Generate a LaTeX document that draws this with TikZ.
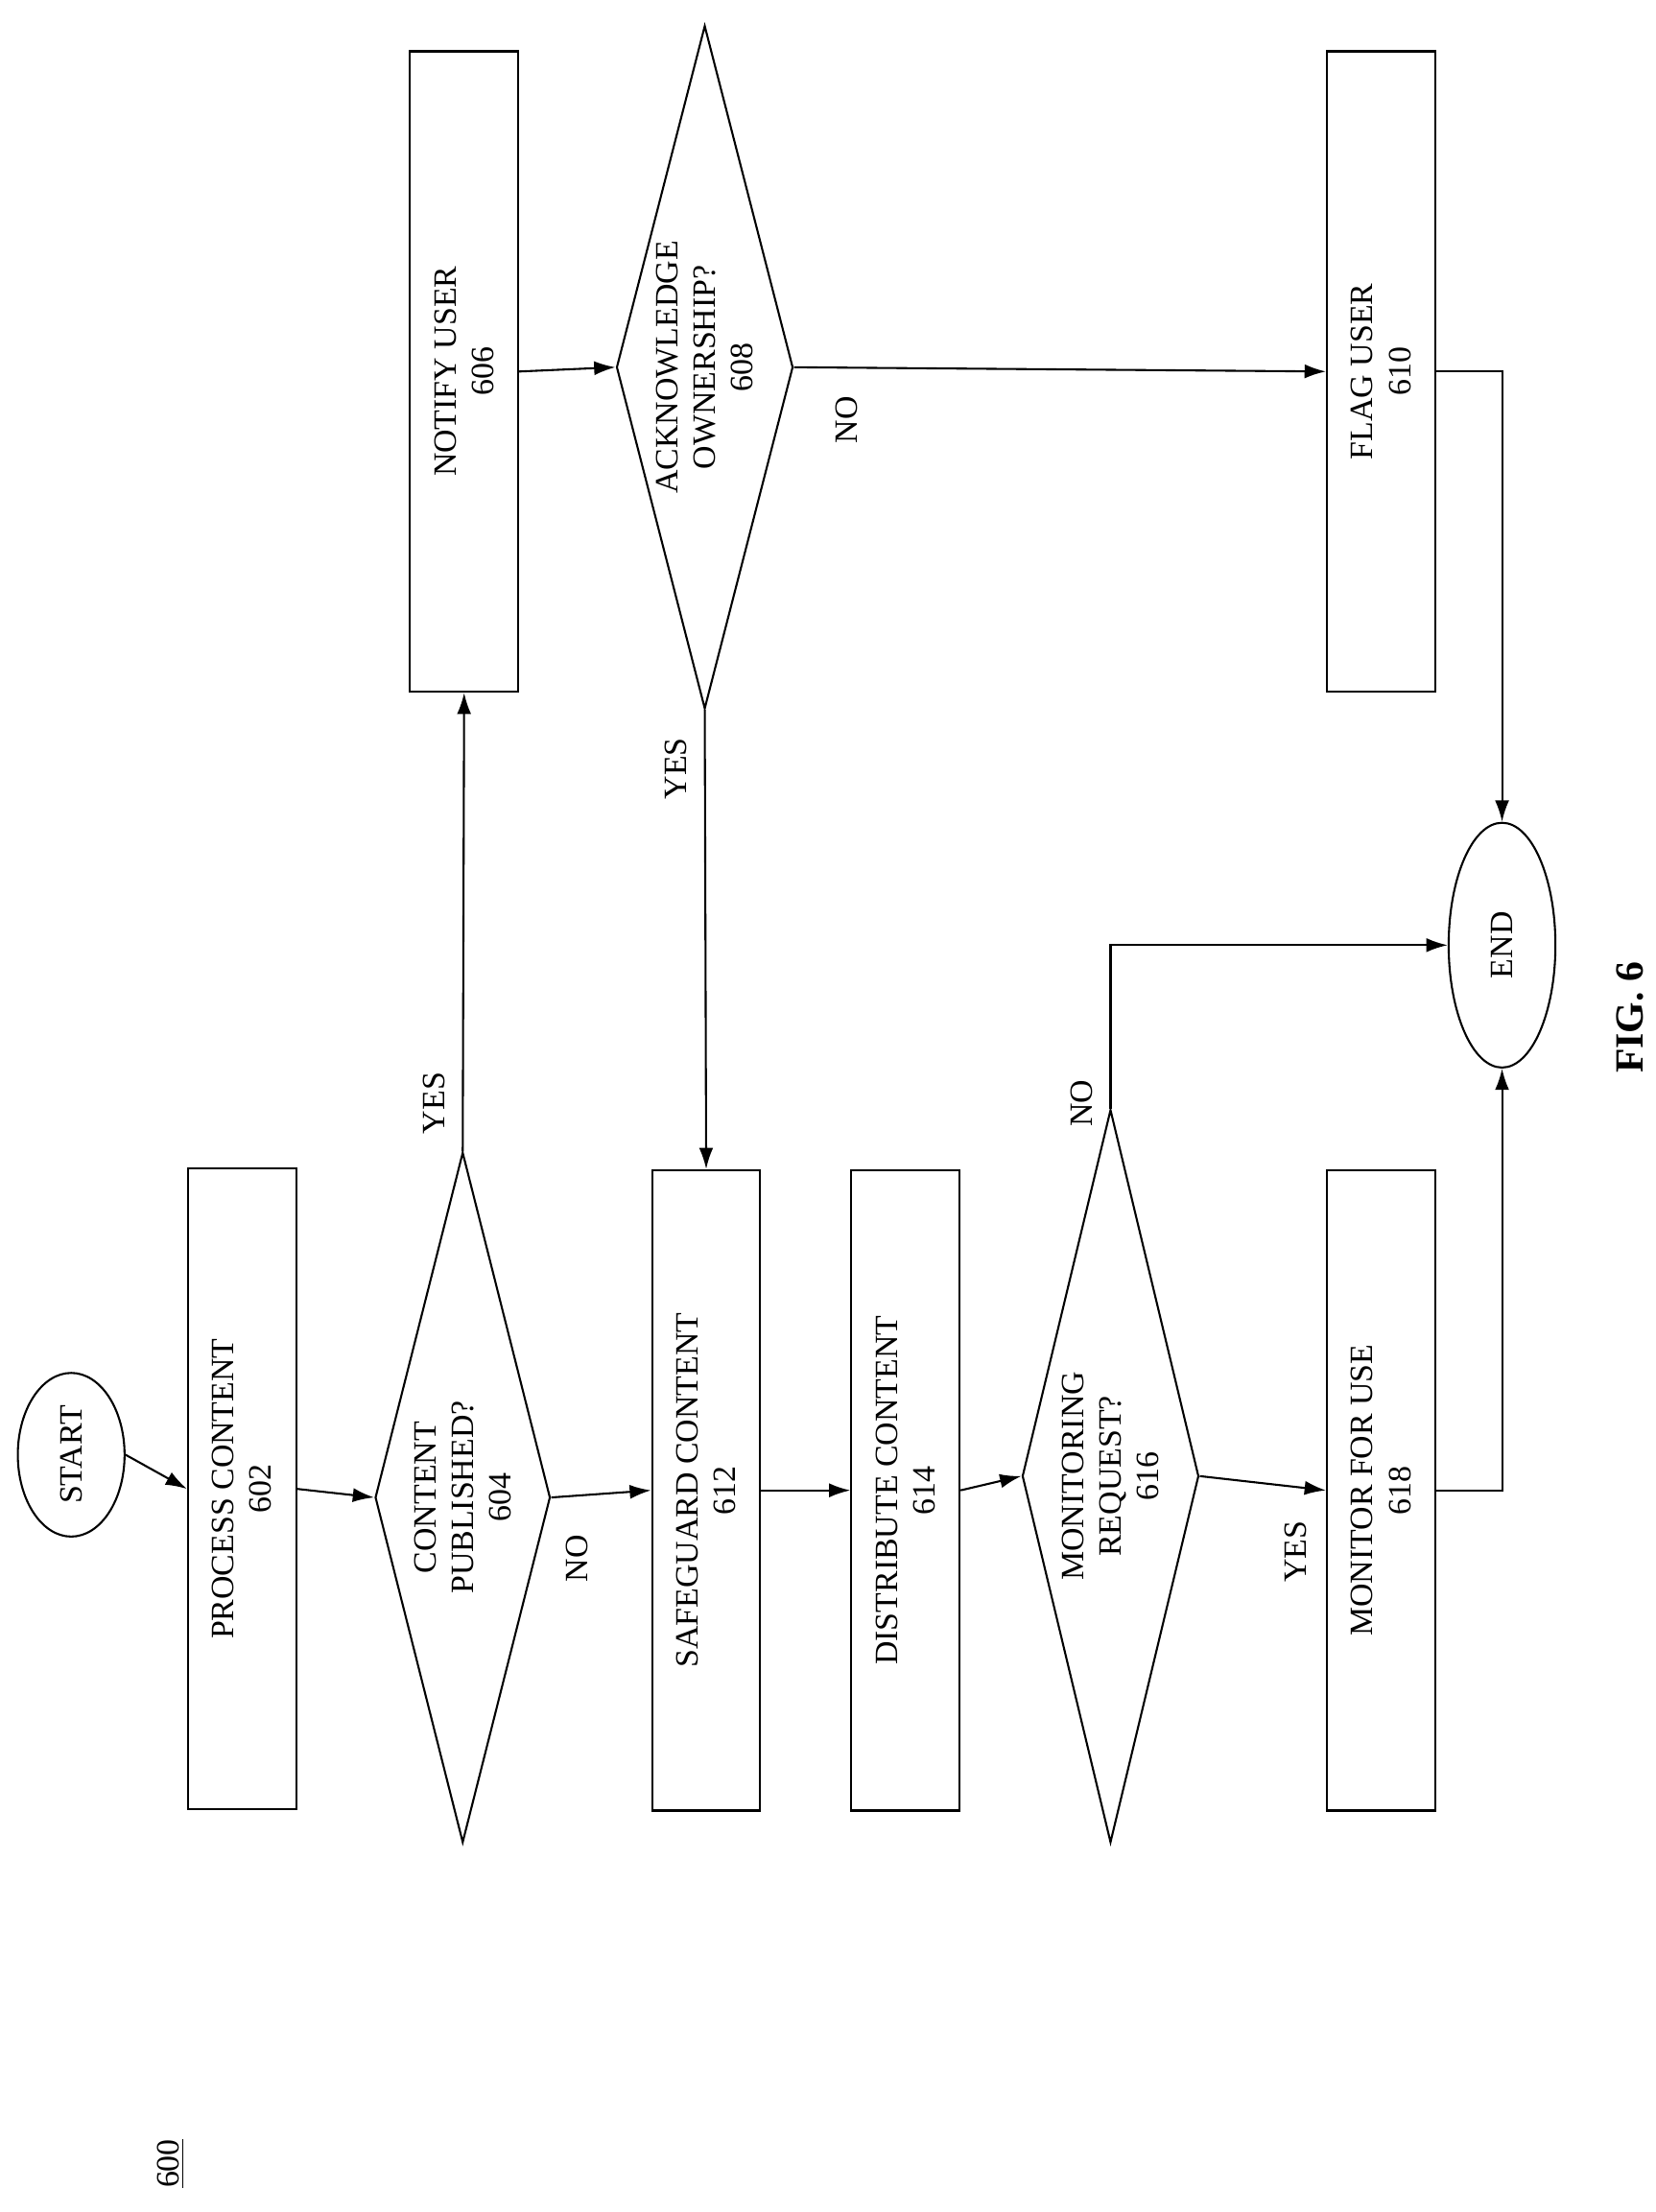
\documentclass[tikz,border=0pt]{standalone}
\usepackage{fontspec}
\setmainfont{Liberation Serif}
\usetikzlibrary{shapes.geometric,arrows.meta}
\begin{document}
\begin{tikzpicture}[x=0.02cm, y=-0.02cm, font=\fontsize{13}{15}\selectfont,
    box/.style = {draw, thick, rotate=90, minimum width=9cm, minimum height=1.52cm, align=center},
    dec/.style = {draw, thick, diamond, rotate=90, inner sep=0pt, align=center},
    term/.style = {draw, thick, ellipse, rotate=90, minimum height=1.5cm},
    lbl/.style = {rotate=90},
    >={Latex[length=3mm,width=2mm]}]

    \useasboundingbox (0,0) rectangle (1163,1554);

    \node[term, minimum width=2.3cm] (start) at (50,1022) {START};
    \node[box] (p602) at (170,1046) {PROCESS CONTENT\\602};
    \node[dec, minimum width=9.7cm, minimum height=2.46cm, shape aspect=3.9] (d604) at (325,1052) {CONTENT\\PUBLISHED?\\604};
    \node[box] (p606) at (326,261) {NOTIFY USER\\606};
    \node[dec, minimum width=9.6cm, minimum height=2.48cm, shape aspect=3.9] (d608) at (495,258) {ACKNOWLEDGE\\OWNERSHIP?\\608};
    \node[box] (p610) at (970,261) {FLAG USER\\610};
    \node[box] (p612) at (496,1047) {SAFEGUARD CONTENT\\612};
    \node[box] (p614) at (636,1047) {DISTRIBUTE CONTENT\\614};
    \node[dec, minimum width=10.3cm, minimum height=2.48cm, shape aspect=4.1] (d616) at (780,1037) {MONITORING\\REQUEST?\\616};
    \node[box] (p618) at (970,1047) {MONITOR FOR USE\\618};
    \node[term, minimum width=3.44cm] (end) at (1055,664) {END};

    %--------------------------------------------

    \draw[thick, ->] (start.south) -- (p602.north);
    \draw[thick, ->] (p602.south) -- (d604.north);
    \draw[thick, ->] (d604.south) -- (p612.north);
    \draw[thick, ->] (d604.east) -- (p606.west);
    \draw[thick, ->] (p606.south) -- (d608.north);
    \draw[thick, ->] (d608.south) -- (p610.north);
    \draw[thick, ->] (d608.west) -- (p612.east);
    \draw[thick, ->] (p612.south) -- (p614.north);
    \draw[thick, ->] (p614.south) -- (d616.north);
    \draw[thick, ->] (d616.south) -- (p618.north);
    \draw[thick, ->] (d616.east) |- (end.north);
    \draw[thick, ->] (p618.south) -| (end.west);
    \draw[thick, ->] (p610.south) -| (end.east);

    %--------------------------------------------

    \node[lbl] (no604) at (405,1095) {NO};
    \node[lbl] (yes604) at (305,775) {YES};
    \node[lbl] (no608) at (595,295) {NO};
    \node[lbl] (yes608) at (475,540) {YES};
    \node[lbl] (yes616) at (910,1090) {YES};
    \node[lbl] (no616) at (760,775) {NO};
    \node[lbl] (fig) at (1145,715) {\fontsize{16}{18}\selectfont\bfseries FIG. 6};
    \node[lbl] (ref) at (120,1520) {\underline{600}};

\end{tikzpicture}
\end{document}
